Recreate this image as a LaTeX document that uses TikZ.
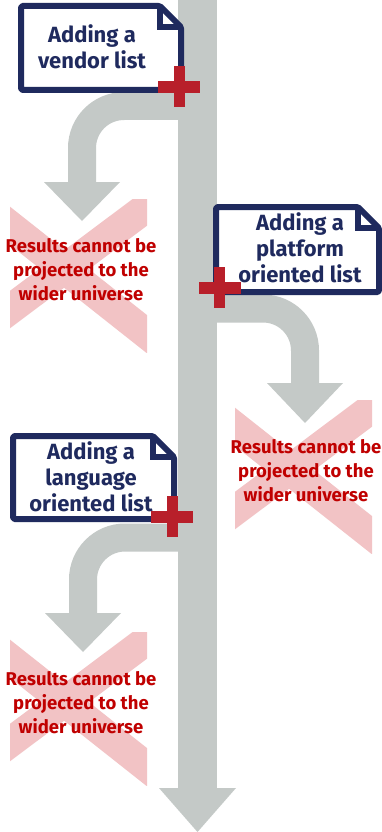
\documentclass[tikz,border=0pt]{standalone}
\usepackage{fontspec}
\setmainfont{Fira Sans}
\definecolor{navy}{RGB}{31,42,94}
\definecolor{resred}{RGB}{192,0,0}
\definecolor{plusred}{RGB}{184,31,42}
\definecolor{xpink}{RGB}{242,195,197}
\definecolor{arrowgray}{RGB}{196,201,199}
\begin{document}
\begin{tikzpicture}[x=1pt,y=-1pt,
  shaft/.style={draw=arrowgray, line width=28pt, rounded corners=42pt},
  head/.style={fill=arrowgray},
  card/.style={draw=navy, line width=6pt, fill=white, rounded corners=1.5pt, line join=round},
  fold/.style={draw=navy, line width=6pt, line join=miter},
  cardtext/.style={text=navy, font=\bfseries\fontsize{22}{26}\selectfont, align=center, inner sep=0pt},
  restext/.style={text=resred, font=\bfseries\fontsize{18.5}{24}\selectfont, align=center, inner sep=0pt},
  xarm/.style={draw=xpink, line width=30pt},
  redplus/.pic={\fill[plusred] (-21,-6) rectangle (21,6); \fill[plusred] (-5.5,-20.5) rectangle (5.5,20.5);}
]
\useasboundingbox[fill=white] (0,0) rectangle (382,832);

% pink crosses, clipped to their square
\foreach \cx/\cy/\nm in {81/270/xa, 306/471/xb, 81/703/xc}{
  \begin{scope}
    \clip (\cx-71,\cy-71) rectangle (\cx+66,\cy+82);
    \coordinate (\nm a1) at (\cx-91,\cy-60);
    \coordinate (\nm a2) at (\cx+86,\cy+80);
    \coordinate (\nm b1) at (\cx+82,\cy-75);
    \coordinate (\nm b2) at (\cx-89,\cy+53);
    \draw[xarm] (\nm a1) -- (\nm a2);
    \draw[xarm] (\nm b1) -- (\nm b2);
  \end{scope}
}

% main trunk
\coordinate (trunktop) at (197.5,0);
\coordinate (trunkend) at (197.5,790);
\fill[arrowgray] (178,0) rectangle (217,790);
\fill[head] (159,788) -- (236,788) -- (197.5,832) -- cycle;

% branch arrows
\coordinate (b1s) at (197,106);
\coordinate (b1c) at (82,106);
\coordinate (b1e) at (82,184);
\draw[shaft] (b1s) -- (b1c) -- (b1e);
\fill[head] (44,182) -- (120,182) -- (82,221) -- cycle;

\coordinate (b2s) at (197,308.5);
\coordinate (b2c) at (305,308.5);
\coordinate (b2e) at (305,385);
\draw[shaft] (b2s) -- (b2c) -- (b2e);
\fill[head] (267,383) -- (343,383) -- (305,423) -- cycle;

\coordinate (b3s) at (197,537.5);
\coordinate (b3c) at (83,537.5);
\coordinate (b3e) at (83,615);
\draw[shaft] (b3s) -- (b3c) -- (b3e);
\fill[head] (45,613) -- (121,613) -- (83,652) -- cycle;

% cards
\draw[card] (21,6) -- (160,6) -- (181,27) -- (181,90) -- (21,90) -- cycle;
\draw[fold] (160,6) -- (160,27) -- (181,27);
\node[cardtext] (c1) at (92,47) {Adding a\\vendor list};

\draw[card] (216,207) -- (358,207) -- (379,228) -- (379,292) -- (216,292) -- cycle;
\draw[fold] (358,207) -- (358,228) -- (379,228);
\node[cardtext] (c2) at (300,248) {Adding a\\platform\\oriented list};

\draw[card] (13,436) -- (153,436) -- (174,457) -- (174,519) -- (13,519) -- cycle;
\draw[fold] (153,436) -- (153,457) -- (174,457);
\node[cardtext] (c3) at (91,477) {Adding a\\language\\oriented list};

% plus signs
\pic at (179,87) {redplus};
\pic at (219.5,287.5) {redplus};
\pic at (172,516.5) {redplus};

% result texts
\node[restext] (r1) at (81,270) {Results cannot be\\projected to the\\wider universe};
\node[restext] (r2) at (306,471) {Results cannot be\\projected to the\\wider universe};
\node[restext] (r3) at (81,703) {Results cannot be\\projected to the\\wider universe};
\end{tikzpicture}
\end{document}
